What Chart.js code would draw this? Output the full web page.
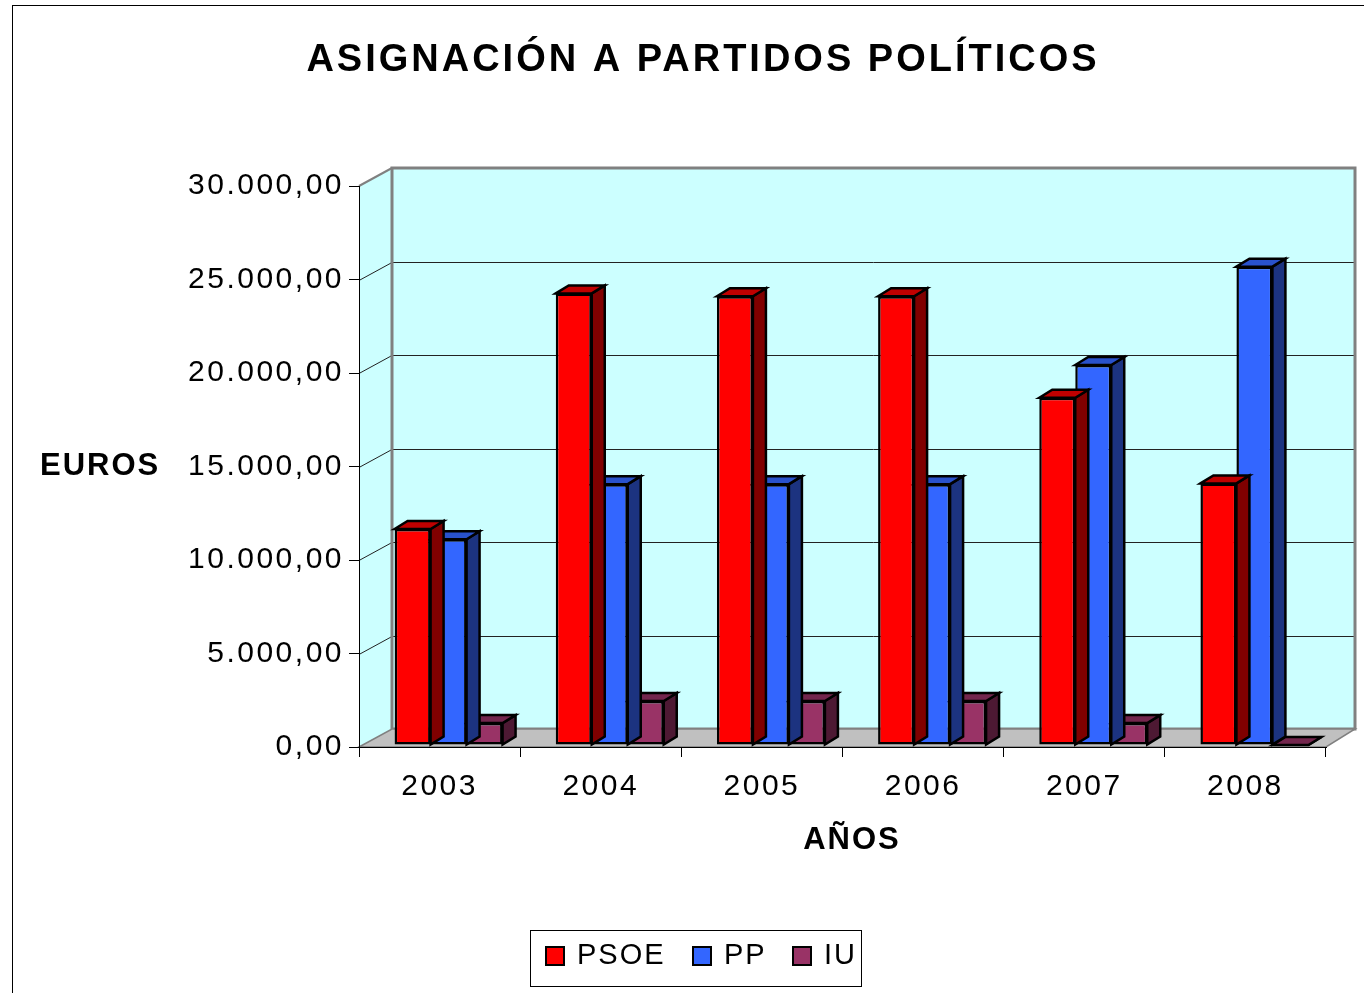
<!DOCTYPE html>
<html>
<head>
<meta charset="utf-8">
<title>Asignación a partidos políticos</title>
<script src="https://cdn.jsdelivr.net/npm/chart.js@4.4.0/dist/chart.umd.min.js"></script>
<style>
  html, body { margin: 0; padding: 0; background: #fff; overflow: hidden; }
  canvas { display: block; }
</style>
</head>
<body>
<canvas id="myChart" width="1364" height="993"></canvas>
<script>
// data
const years = ["2003", "2004", "2005", "2006", "2007", "2008"];
const psoe = [11550, 24150, 24000, 24000, 18570, 13990];
const pp = [11000, 13950, 13950, 13950, 20320, 25580];
const iu = [1170, 2350, 2350, 2350, 1170, 0];

const FONT = "'Liberation Sans', Arial, sans-serif";
const DEPTH = { dx: 33, dy: -18 };   // depth of the walls
const BAR_DEPTH = { dx: 13, dy: -8 }; // depth of each bar
const SHIFT = { x: 9, y: -2 };        // bars sit a bit inside the floor

// front / side / top colours for each series
const faces = [
  { front: "#ff0000", side: "#800000", top: "#c00000" },
  { front: "#3366ff", side: "#1c3380", top: "#2952cc" },
  { front: "#993366", side: "#4d1933", top: "#73264d" }
];

function fmt(v) {
  // 30000 -> 30.000,00
  const s = String(Math.round(v)).replace(/\B(?=(\d{3})+(?!\d))/g, ".");
  return s + ",00";
}

const box3d = {
  id: "box3d",
  beforeDraw(chart) {
    const ctx = chart.ctx;
    const a = chart.chartArea;
    const y = chart.scales.y;
    ctx.letterSpacing = "2.5px"; // used by the tick labels

    ctx.save();
    ctx.fillStyle = "#fff";
    ctx.fillRect(0, 0, chart.width, chart.height);

    // outer frame
    ctx.strokeStyle = "#000";
    ctx.lineWidth = 1;
    ctx.strokeRect(12.5, 5.5, 1500, 1200);

    const bl = a.left + DEPTH.dx, br = a.right + 29;
    const bt = a.top + DEPTH.dy, bb = a.bottom + DEPTH.dy;

    // side wall
    ctx.fillStyle = "#ccffff";
    ctx.beginPath();
    ctx.moveTo(a.left, a.top);
    ctx.lineTo(bl, bt);
    ctx.lineTo(bl, bb);
    ctx.lineTo(a.left, a.bottom);
    ctx.closePath();
    ctx.fill();
    ctx.strokeStyle = "#808080";
    ctx.lineWidth = 2;
    ctx.beginPath();
    ctx.moveTo(a.left, a.top);
    ctx.lineTo(bl, bt);
    ctx.stroke();

    // back wall
    ctx.fillStyle = "#ccffff";
    ctx.fillRect(bl, bt, br - bl, bb - bt);

    // grid lines on back and side wall
    ctx.strokeStyle = "#222";
    ctx.lineWidth = 1;
    y.ticks.forEach(t => {
      if (t.value === 0 || t.value === y.max) return;
      const py = Math.round(y.getPixelForValue(t.value)) + 0.5;
      ctx.beginPath();
      ctx.moveTo(a.left, py);
      ctx.lineTo(bl, py + DEPTH.dy);
      ctx.lineTo(br, py + DEPTH.dy);
      ctx.stroke();
    });

    ctx.strokeStyle = "#808080";
    ctx.lineWidth = 3;
    ctx.strokeRect(bl, bt, br - bl, bb - bt);

    // floor
    ctx.fillStyle = "#c0c0c0";
    ctx.beginPath();
    ctx.moveTo(a.left, a.bottom);
    ctx.lineTo(bl, bb);
    ctx.lineTo(br, bb);
    ctx.lineTo(a.right, a.bottom);
    ctx.closePath();
    ctx.fill();
    ctx.strokeStyle = "#808080";
    ctx.lineWidth = 1.5;
    ctx.stroke();
    ctx.restore();
  },
  beforeDatasetsDraw(chart) {
    chart.ctx.save();
    chart.ctx.translate(SHIFT.x, SHIFT.y);
  },
  afterDatasetDraw(chart, args) {
    const ctx = chart.ctx;
    const f = faces[args.index];
    ctx.save();
    ctx.strokeStyle = "#000";
    ctx.lineWidth = 2.5;
    ctx.lineJoin = "miter";
    args.meta.data.forEach(bar => {
      const p = bar.getProps(["x", "y", "base", "width"], true);
      const l = p.x - p.width / 2, r = p.x + p.width / 2;
      const t = Math.min(p.y, p.base), b = Math.max(p.y, p.base);
      // side face
      ctx.fillStyle = f.side;
      ctx.beginPath();
      ctx.moveTo(r, t);
      ctx.lineTo(r + BAR_DEPTH.dx, t + BAR_DEPTH.dy);
      ctx.lineTo(r + BAR_DEPTH.dx, b + BAR_DEPTH.dy);
      ctx.lineTo(r, b);
      ctx.closePath();
      ctx.fill();
      ctx.stroke();
      // top face
      ctx.fillStyle = f.top;
      ctx.beginPath();
      ctx.moveTo(l, t);
      ctx.lineTo(l + BAR_DEPTH.dx, t + BAR_DEPTH.dy);
      ctx.lineTo(r + BAR_DEPTH.dx, t + BAR_DEPTH.dy);
      ctx.lineTo(r, t);
      ctx.closePath();
      ctx.fill();
      ctx.stroke();
    });
    ctx.restore();
  },
  afterDatasetsDraw(chart) {
    chart.ctx.restore();
  },
  afterDraw(chart) {
    const ctx = chart.ctx;
    ctx.save();
    ctx.fillStyle = "#000";
    ctx.textBaseline = "middle";

    // title
    ctx.letterSpacing = "3px";
    ctx.font = "bold 38px " + FONT;
    ctx.textAlign = "center";
    ctx.fillText("ASIGNACIÓN A PARTIDOS POLÍTICOS", 703, 61);

    // axis titles
    ctx.letterSpacing = "2px";
    ctx.font = "bold 31px " + FONT;
    ctx.textAlign = "left";
    ctx.fillText("EUROS", 40, 466);
    ctx.textAlign = "center";
    ctx.fillText("AÑOS", 852, 840);

    // legend
    ctx.strokeStyle = "#000";
    ctx.lineWidth = 1;
    ctx.strokeRect(530.5, 930.5, 331, 56);
    ctx.font = "29px " + FONT;
    ctx.textAlign = "left";
    const xs = [546, 693, 793];
    chart.data.datasets.forEach((ds, i) => {
      ctx.fillStyle = ds.backgroundColor;
      ctx.fillRect(xs[i], 947, 18, 18);
      ctx.lineWidth = 2;
      ctx.strokeRect(xs[i], 947, 18, 18);
      ctx.fillStyle = "#000";
      ctx.fillText(ds.label, xs[i] + 31, 956);
    });
    ctx.restore();
  }
};

const ctx = document.getElementById("myChart").getContext("2d");
new Chart(ctx, {
  type: "bar",
  data: {
    labels: years,
    datasets: [
      { label: "PSOE", data: psoe, backgroundColor: faces[0].front },
      { label: "PP", data: pp, backgroundColor: faces[1].front },
      { label: "IU", data: iu, backgroundColor: faces[2].front }
    ]
  },
  options: {
    responsive: false,
    animation: false,
    layout: { padding: { top: 186, left: 0, right: 38, bottom: 0 } },
    datasets: {
      bar: {
        borderColor: "#000",
        borderWidth: 2.5,
        borderSkipped: false,
        barPercentage: 1,
        categoryPercentage: 0.67
      }
    },
    plugins: {
      legend: { display: false },
      title: { display: false },
      tooltip: { enabled: false }
    },
    scales: {
      x: {
        afterFit(scale) { scale.height = 246; },
        grid: { display: true, drawOnChartArea: false, drawTicks: true, tickLength: 10, color: "#000", offset: true },
        border: { display: true, color: "#000", width: 1 },
        ticks: { color: "#000", padding: 12, font: { family: FONT, size: 30 } }
      },
      y: {
        min: 0,
        max: 30000,
        afterFit(scale) { scale.width = 359; },
        grid: { display: true, drawOnChartArea: false, drawTicks: true, tickLength: 10, color: "#000" },
        border: { display: true, color: "#000", width: 1 },
        ticks: {
          stepSize: 5000,
          color: "#000",
          padding: 5,
          font: { family: FONT, size: 30 },
          callback: v => fmt(v)
        }
      }
    }
  },
  plugins: [box3d]
});
</script>
</body>
</html>
